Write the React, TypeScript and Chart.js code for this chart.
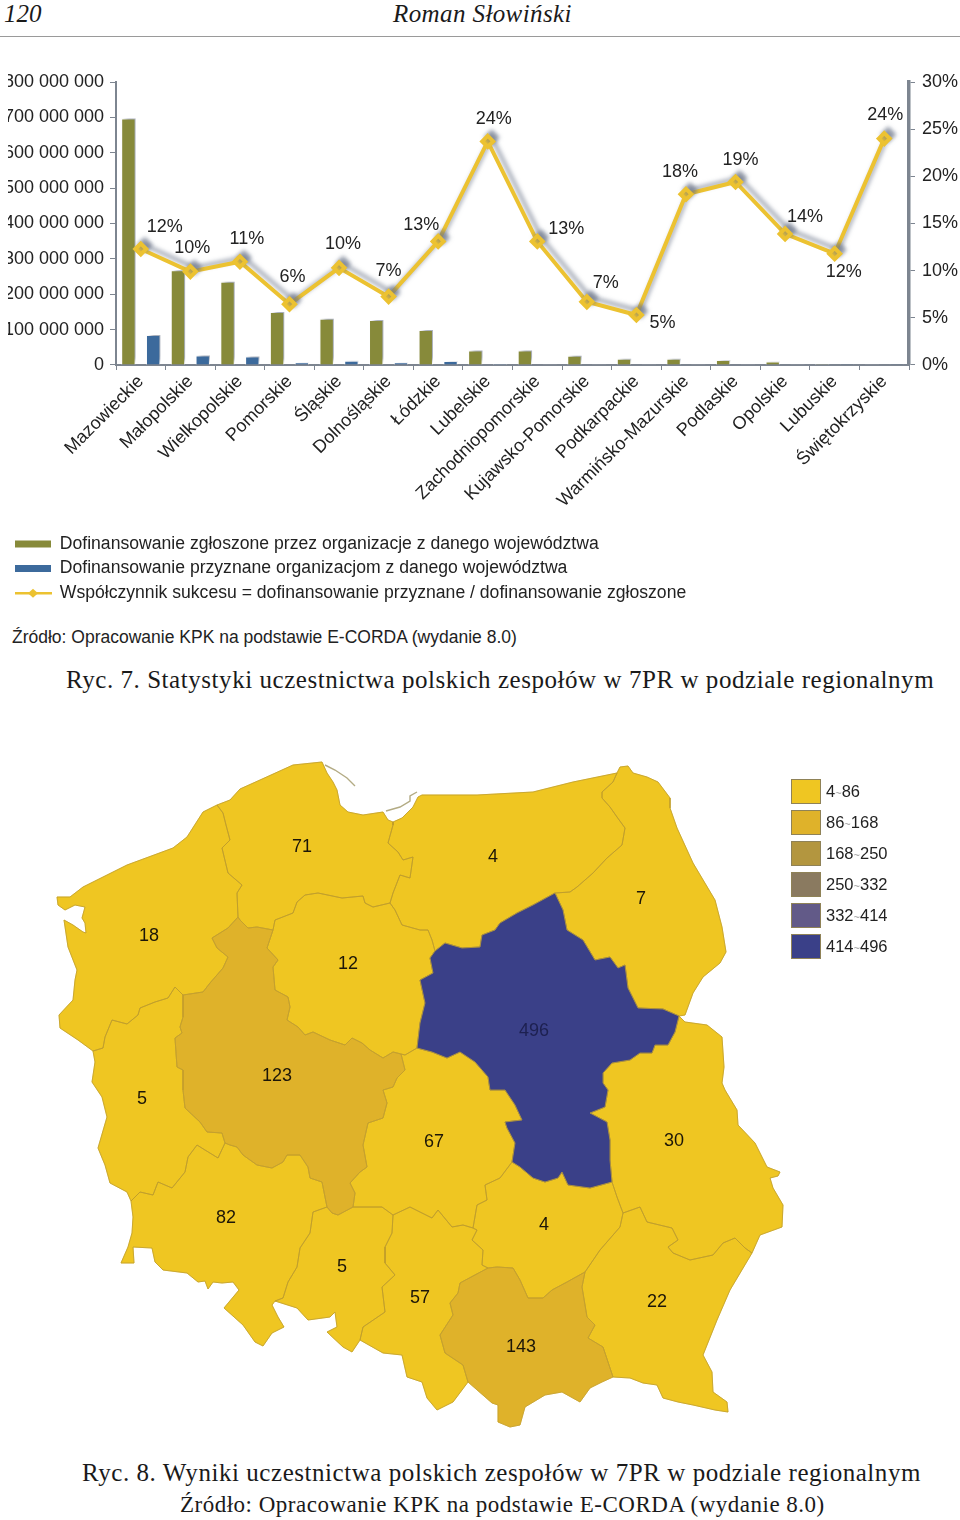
import React, { useEffect, useRef } from "react";
import { Chart, registerables } from "chart.js";

Chart.register(...registerables);

type P = [number, number];

// ---------- Figure 7 data ----------
const voivodeships = ["Mazowieckie", "Małopolskie", "Wielkopolskie", "Pomorskie", "Śląskie", "Dolnośląskie", "Łódzkie", "Lubelskie", "Zachodniopomorskie", "Kujawsko-Pomorskie", "Podkarpackie", "Warmińsko-Mazurskie", "Podlaskie", "Opolskie", "Lubuskie", "Świętokrzyskie"];
const requestedFunding = [697000000, 268000000, 235000000, 150000000, 131000000, 127000000, 99000000, 41000000, 41000000, 26000000, 18000000, 18000000, 14000000, 10000000, 2500000, 2000000];
const grantedFunding = [85000000, 27000000, 24000000, 8000000, 12000000, 8000000, 11000000, 3000000, 2000000, 2000000, 1000000, 1000000, 1000000, 1000000, 500000, 500000];
const successRate = [12.3, 9.9, 10.95, 6.45, 10.3, 7.25, 13.1, 23.7, 13.1, 6.7, 5.3, 18.1, 19.4, 13.9, 11.8, 24];
const rateLabels = ["12%", "10%", "11%", "6%", "10%", "7%", "13%", "24%", "13%", "7%", "5%", "18%", "19%", "14%", "12%", "24%"];
const rateLabelOffsets: P[] = [[24, -22], [2, -24], [7, -23], [3, -27], [4, -24], [0, -26], [-17, -16], [6, -22], [29, -12], [19, -19], [26, 8], [-6, -22], [5, -22], [20, -17], [9, 18], [1, -24]];
const seriesNames = ["Dofinansowanie zgłoszone przez organizacje z danego województwa", "Dofinansowanie przyznane organizacjom z danego województwa", "Współczynnik sukcesu = dofinansowanie przyznane / dofinansowanie zgłoszone"];

const mD: P[] = [[555, 893], [563, 910], [567, 930], [583, 940], [595, 960], [610, 957], [618, 968], [625, 965], [628, 988], [638, 1008], [663, 1009], [679, 1016]];
const mU: P[] = [[679, 1016], [675, 1032], [668, 1045], [655, 1045], [652, 1053], [640, 1053], [630, 1060], [612, 1063], [603, 1073], [603, 1083], [608, 1090], [605, 1107], [590, 1113], [607, 1122], [610, 1140], [610, 1160], [612, 1182]];
const mN: P[] = [[612, 1182], [590, 1188], [568, 1185], [562, 1172], [558, 1178], [545, 1182], [533, 1178], [520, 1167], [512, 1162]];
const mE: P[] = [[512, 1162], [515, 1143], [507, 1128], [505, 1122], [522, 1120], [515, 1105], [505, 1090], [490, 1090], [488, 1077], [475, 1062], [460, 1052], [447, 1058], [432, 1052], [417, 1048]];
const mK: P[] = [[417, 1048], [420, 1023], [425, 1003], [420, 980], [433, 973], [430, 958], [435, 951]];
const mW: P[] = [[435, 951], [445, 943], [462, 948], [480, 947], [482, 935], [495, 930], [500, 923], [517, 913], [533, 905], [555, 893]];
const wD: P[] = [[555, 893], [570, 892], [577, 887], [593, 873], [607, 858], [622, 845], [625, 828], [617, 817], [610, 807], [602, 798], [602, 792], [613, 782], [617, 773]];
const dOut: P[] = [[617, 773], [620, 767], [628, 766], [633, 773], [647, 777], [658, 782], [670, 798], [670, 808], [677, 828], [693, 863], [715, 900], [722, 927], [726, 952], [720, 963], [703, 977], [693, 993], [685, 1015], [679, 1016]];
const uOut: P[] = [[679, 1016], [685, 1022], [707, 1025], [722, 1037], [724, 1067], [722, 1083], [725, 1090], [737, 1110], [738, 1125], [755, 1143], [767, 1167], [780, 1172], [778, 1176], [770, 1178], [773, 1188], [783, 1205], [782, 1227], [760, 1235], [752, 1253]];
const uR: P[] = [[623, 1213], [640, 1207], [647, 1222], [672, 1228], [678, 1240], [668, 1247], [673, 1253], [690, 1260], [713, 1255], [723, 1243], [735, 1238], [745, 1248], [752, 1253]];
const uN: P[] = [[612, 1182], [617, 1197], [623, 1213]];
const nR: P[] = [[623, 1213], [620, 1227], [600, 1250], [585, 1272]];
const nA: P[] = [[585, 1272], [567, 1282], [552, 1290], [543, 1298], [528, 1298], [520, 1280], [513, 1268], [497, 1267], [488, 1268]];
const nT: P[] = [[488, 1268], [482, 1265], [483, 1250], [472, 1240], [477, 1230], [473, 1228]];
const nE: P[] = [[473, 1228], [477, 1205], [487, 1200], [485, 1185], [500, 1178], [512, 1162]];
const eK: P[] = [[417, 1048], [405, 1055], [401, 1054]];
const kG: P[] = [[401, 1054], [393, 1052], [383, 1058], [370, 1050], [362, 1043], [352, 1038], [345, 1045], [330, 1040], [313, 1032], [305, 1035], [298, 1027], [287, 1020], [290, 1007], [288, 997], [275, 990], [273, 967], [278, 960], [267, 948], [273, 930]];
const gP: P[] = [[273, 930], [257, 927], [248, 928], [240, 920], [238, 917]];
const gZ: P[] = [[238, 917], [228, 928], [212, 938], [217, 948], [228, 957], [223, 968], [210, 983], [203, 992], [183, 995]];
const gL: P[] = [[183, 995], [183, 1017], [180, 1027], [182, 1033], [175, 1038], [177, 1067], [183, 1070], [183, 1090], [185, 1108], [200, 1122], [207, 1132], [222, 1133], [225, 1143]];
const gS: P[] = [[225, 1143], [230, 1145], [237, 1147], [243, 1155], [257, 1165], [272, 1168], [283, 1162], [287, 1155], [300, 1155], [308, 1167], [310, 1178], [322, 1182], [325, 1197], [327, 1207]];
const gO: P[] = [[327, 1207], [332, 1213], [338, 1215], [353, 1207]];
const gE: P[] = [[353, 1207], [355, 1193], [350, 1183], [360, 1172], [367, 1167], [363, 1145], [368, 1123], [383, 1118], [387, 1103], [383, 1090], [393, 1087], [397, 1078], [405, 1070], [401, 1054]];
const eO: P[] = [[353, 1207], [382, 1207], [393, 1215]];
const eT: P[] = [[393, 1215], [410, 1207], [432, 1218], [438, 1210], [452, 1227], [463, 1225], [473, 1228]];
const oT: P[] = [[393, 1215], [392, 1233], [385, 1247], [385, 1263], [395, 1275], [382, 1287], [385, 1312], [363, 1327], [360, 1340]];
const oS: P[] = [[327, 1207], [313, 1212], [310, 1233], [300, 1248], [297, 1267], [288, 1282], [283, 1298], [275, 1301]];
const sL: P[] = [[225, 1143], [218, 1158], [205, 1150], [197, 1145], [188, 1157], [185, 1172], [172, 1188], [158, 1182], [153, 1195], [140, 1192], [131, 1201]];
const lOut: P[] = [[93, 1051], [95, 1062], [92, 1082], [102, 1097], [107, 1117], [98, 1148], [105, 1165], [110, 1183], [127, 1192], [131, 1201]];
const zL: P[] = [[183, 995], [175, 987], [168, 998], [155, 1002], [140, 1008], [138, 1015], [127, 1024], [112, 1020], [105, 1037], [103, 1048], [93, 1051]];
const sOut: P[] = [[131, 1201], [133, 1217], [132, 1233], [128, 1247], [121, 1263], [134, 1263], [133, 1247], [152, 1248], [155, 1262], [163, 1270], [187, 1273], [198, 1282], [205, 1281], [208, 1289], [213, 1282], [222, 1283], [233, 1282], [239, 1290], [224, 1308], [243, 1325], [255, 1342], [263, 1346], [272, 1333], [284, 1327], [278, 1317], [272, 1305], [275, 1301]];
const oOut: P[] = [[275, 1301], [297, 1308], [308, 1320], [330, 1317], [335, 1312], [337, 1327], [327, 1332], [343, 1347], [352, 1352], [360, 1340]];
const tOut: P[] = [[360, 1340], [383, 1353], [402, 1355], [407, 1377], [422, 1382], [427, 1398], [437, 1410], [453, 1402], [468, 1382]];
const tA: P[] = [[488, 1268], [460, 1283], [458, 1293], [450, 1303], [453, 1315], [440, 1335], [445, 1353], [463, 1365], [468, 1382]];
const aOut: P[] = [[468, 1382], [492, 1403], [498, 1405], [498, 1422], [510, 1427], [520, 1425], [525, 1407], [545, 1395], [562, 1392], [580, 1402], [590, 1388], [602, 1382], [613, 1377]];
const aR: P[] = [[585, 1272], [582, 1287], [587, 1317], [595, 1325], [588, 1338], [603, 1347], [613, 1377]];
const rOut: P[] = [[613, 1377], [630, 1378], [643, 1383], [657, 1385], [663, 1398], [678, 1402], [693, 1405], [715, 1410], [728, 1412], [727, 1402], [713, 1392], [712, 1372], [703, 1355], [717, 1320], [730, 1290], [752, 1253]];
const zOut: P[] = [[93, 1051], [78, 1040], [60, 1028], [59, 1015], [73, 1000], [75, 980], [77, 970], [68, 947], [64, 920], [73, 925], [83, 932], [86, 933], [85, 923], [82, 918], [85, 907], [75, 905], [65, 910], [58, 905], [57, 897], [70, 897], [83, 887], [95, 881], [127, 865], [173, 848], [187, 837], [203, 812], [217, 805]];
const pOut: P[] = [[217, 805], [230, 800], [240, 789], [260, 780], [293, 765], [322, 762], [327, 773], [333, 782], [337, 790], [340, 805], [348, 812], [363, 815], [383, 812], [388, 820], [393, 822]];
const wOut: P[] = [[393, 822], [402, 818], [413, 807], [418, 797], [422, 795], [477, 795], [533, 792], [573, 782], [617, 773]];
const zP: P[] = [[217, 805], [223, 813], [226, 825], [230, 840], [222, 848], [228, 873], [242, 885], [237, 893], [238, 917]];
const pK: P[] = [[273, 930], [275, 920], [293, 913], [297, 902], [305, 895], [318, 893], [342, 898], [363, 896], [365, 903], [373, 907], [390, 903]];
const pW: P[] = [[390, 903], [393, 893], [400, 875], [410, 878], [413, 857], [403, 860], [398, 852], [388, 843], [393, 825], [393, 822]];
const kW: P[] = [[390, 903], [395, 910], [402, 925], [420, 930], [428, 930], [432, 940], [435, 951]];
const helSpit: P[] = [[325, 765], [335, 770], [347, 778], [355, 786]];
const vistulaSpit: P[] = [[386, 811], [400, 807], [410, 801], [410, 796], [417, 792]];

const rev = (c: P[]): P[] => [...c].reverse();

const regionNames = ["Mazowieckie", "Podlaskie", "Warmińsko-Mazurskie", "Pomorskie", "Zachodniopomorskie", "Kujawsko-Pomorskie", "Wielkopolskie", "Lubuskie", "Dolnośląskie", "Opolskie", "Śląskie", "Łódzkie", "Świętokrzyskie", "Małopolskie", "Podkarpackie", "Lubelskie"];
const regionValues = [496, 7, 4, 71, 18, 12, 123, 5, 82, 5, 57, 67, 4, 143, 22, 30];
const regionLabelAnchors: P[] = [[534, 1031], [641, 899], [493, 857], [302, 847], [149, 936], [348, 964], [277, 1076], [142, 1099], [226, 1218], [342, 1267], [420, 1298], [434, 1142], [544, 1225], [521, 1347], [657, 1302], [674, 1141]];
const regionOutlines: P[][][] = [
  [mD, mU, mN, mE, mK, mW],
  [wD, dOut, rev(mD)],
  [mW, wD, rev(wOut), rev(pW), kW],
  [pOut, rev(pW), rev(pK), gP, rev(zP)],
  [zOut, zP, gZ, zL],
  [pK, kW, rev(mK), eK, kG],
  [kG, gP, gZ, gL, gS, gO, gE],
  [zL, lOut, rev(sL), rev(gL)],
  [sL, sOut, rev(oS), rev(gS)],
  [oS, oOut, rev(oT), rev(eO), rev(gO)],
  [oT, tOut, rev(tA), nT, rev(eT)],
  [eO, eT, nE, mE, eK, rev(gE)],
  [uN, nR, nA, nT, nE, rev(mN)],
  [aR, rev(aOut), rev(tA), rev(nA)],
  [uR, rev(rOut), rev(aR), rev(nR)],
  [uOut, rev(uR), rev(uN), rev(mU)],
];

const binLabels: [string, string][] = [["4", "86"], ["86", "168"], ["168", "250"], ["250", "332"], ["332", "414"], ["414", "496"]];
const binUpper = [86, 168, 250, 332, 414, 496];
const binColors = ["#efc622", "#dfb22a", "#b3963f", "#8a7a60", "#625a88", "#3a4088"];

const SANS = "'Liberation Sans', Arial, sans-serif";
const SERIF = "'Liberation Serif', serif";
const AXIS = "#7d8590";
const OLIVE = "#878a3a";
const BLUE = "#3c6a9c";
const GOLD = "#ecc231";
const TEXT = "#222222";
const BAR_H = 612;

function BarChart() {
  const ref = useRef<HTMLCanvasElement>(null);
  useEffect(() => {
    const shadow = {
      id: "softShadow",
      beforeDatasetDraw(chart: any) {
        const c = chart.ctx;
        c.save();
        c.shadowColor = "rgba(105,115,135,0.6)";
        c.shadowBlur = 4;
        c.shadowOffsetX = 4;
        c.shadowOffsetY = -4;
      },
      afterDatasetDraw(chart: any) {
        chart.ctx.restore();
      },
    };
    const extras = {
      id: "rateLabels",
      afterDatasetsDraw(chart: any) {
        const c = chart.ctx;
        const meta = chart.getDatasetMeta(2);
        c.save();
        c.font = `18px ${SANS}`;
        c.fillStyle = TEXT;
        c.textAlign = "center";
        c.textBaseline = "middle";
        rateLabels.forEach((t, i) => {
          const el = meta.data[i];
          c.fillText(t, el.x + rateLabelOffsets[i][0], el.y + rateLabelOffsets[i][1]);
        });
        c.restore();
      },
      afterDraw(chart: any) {
        const box = chart.legend.legendHitBoxes[2];
        if (!box) return;
        const c = chart.ctx;
        const y = box.top + box.height / 2;
        c.save();
        c.strokeStyle = GOLD;
        c.lineWidth = 2.5;
        c.beginPath();
        c.moveTo(box.left, y);
        c.lineTo(box.left + 37, y);
        c.stroke();
        c.fillStyle = GOLD;
        c.beginPath();
        c.moveTo(box.left + 18, y - 4.5);
        c.lineTo(box.left + 23, y);
        c.lineTo(box.left + 18, y + 4.5);
        c.lineTo(box.left + 13, y);
        c.closePath();
        c.fill();
        c.restore();
      },
    };
    const chart = new Chart(ref.current!, {
      type: "bar",
      data: {
        labels: voivodeships,
        datasets: [
          { type: "bar", label: seriesNames[0], data: requestedFunding, backgroundColor: OLIVE, borderColor: "#ffffff", borderWidth: 1, yAxisID: "y", order: 2 },
          { type: "bar", label: seriesNames[1], data: grantedFunding, backgroundColor: BLUE, borderColor: "#ffffff", borderWidth: 1, yAxisID: "y", order: 2 },
          { type: "line", label: seriesNames[2], data: successRate, borderColor: GOLD, backgroundColor: GOLD, borderWidth: 4, pointStyle: "rectRot", pointRadius: 5.5, tension: 0, yAxisID: "y1", order: 1 },
        ],
      } as any,
      options: {
        animation: false,
        responsive: false,
        maintainAspectRatio: false,
        layout: { padding: { top: 82, left: 8, right: 0, bottom: 0 } },
        datasets: { bar: { categoryPercentage: 1, barPercentage: 0.58 } },
        plugins: {
          tooltip: { enabled: false },
          legend: {
            position: "bottom",
            align: "start",
            labels: {
              color: TEXT,
              font: { family: SANS, size: 17.6 },
              boxWidth: 36,
              boxHeight: 7,
              padding: 7,
              generateLabels: () => seriesNames.map((text, i) => ({
                text,
                fillStyle: [OLIVE, BLUE, "rgba(0,0,0,0)"][i],
                strokeStyle: "rgba(0,0,0,0)",
                lineWidth: 0,
                datasetIndex: i,
                hidden: false,
                fontColor: TEXT,
              })),
            },
          },
        },
        scales: {
          x: {
            offset: true,
            border: { color: AXIS, width: 2 },
            grid: { drawOnChartArea: false, tickLength: 5, color: AXIS, offset: true },
            ticks: { color: TEXT, font: { family: SANS, size: 18 }, autoSkip: false, minRotation: 45, maxRotation: 45, padding: 1 },
            afterFit: (s: any) => {
              s.height = s.chart.height - s.chart.legend.height - 365;
            },
          },
          y: {
            position: "left",
            min: 0,
            max: 800000000,
            border: { color: AXIS, width: 2 },
            grid: { drawOnChartArea: false, tickLength: 6, color: AXIS },
            ticks: {
              stepSize: 100000000,
              padding: 6,
              color: TEXT,
              font: { family: SANS, size: 18 },
              callback: (v: any) => String(v).replace(/\B(?=(\d{3})+$)/g, " "),
            },
            afterFit: (s: any) => {
              s.width = 108;
            },
          },
          y1: {
            position: "right",
            min: 0,
            max: 30,
            border: { color: AXIS, width: 3.5 },
            grid: { drawOnChartArea: false, tickLength: 6, color: AXIS },
            ticks: { stepSize: 5, padding: 7, color: TEXT, font: { family: SANS, size: 18 }, callback: (v: any) => `${v}%` },
            afterFit: (s: any) => {
              s.width = 51;
            },
          },
        },
      } as any,
      plugins: [shadow, extras],
    });
    return () => chart.destroy();
  }, []);
  return <canvas ref={ref} width={960} height={BAR_H} style={{ position: "absolute", left: 0, top: 0, display: "block" }} />;
}

function MapChart() {
  const ref = useRef<HTMLCanvasElement>(null);
  useEffect(() => {
    const colorOf = (v: number) => binColors[binUpper.findIndex((u) => v <= u)];
    const points = regionOutlines.map((chains) => chains.flat().map(([x, y]) => ({ x, y })));
    const fillRegions = {
      id: "fillRegions",
      beforeDatasetsDraw(chart: any) {
        const c = chart.ctx;
        c.save();
        const order = regionValues.map((v, i) => [v, i]).sort((a, b) => a[0] - b[0]).map((a) => a[1]);
        order.forEach((i) => {
          const els = chart.getDatasetMeta(i).data;
          c.beginPath();
          els.forEach((el: any, k: number) => (k ? c.lineTo(el.x, el.y) : c.moveTo(el.x, el.y)));
          c.closePath();
          c.fillStyle = colorOf(regionValues[i]);
          c.strokeStyle = colorOf(regionValues[i]);
          c.lineWidth = 0.6;
          c.fill();
          c.stroke();
        });
        c.restore();
      },
      afterDatasetsDraw(chart: any) {
        const { x, y } = chart.scales;
        const c = chart.ctx;
        c.save();
        c.font = `18px ${SANS}`;
        c.textAlign = "center";
        c.textBaseline = "middle";
        regionValues.forEach((v, i) => {
          c.fillStyle = v > 400 ? "#1d2050" : "#1c1608";
          c.fillText(String(v), x.getPixelForValue(regionLabelAnchors[i][0]), y.getPixelForValue(regionLabelAnchors[i][1]));
        });
        c.restore();
      },
    };
    const regionSets = regionNames.map((label, i) => ({
      label,
      data: points[i],
      showLine: true,
      pointRadius: 0,
      fill: false,
      borderWidth: regionValues[i] > 400 ? 0 : 0.8,
      borderColor: regionValues[i] > 100 ? "#c49f2e" : "#bf9d2c",
      order: regionValues[i] > 100 ? 0 : 1,
      tension: 0,
    }));
    const spitSets = [helSpit, vistulaSpit].map((s, i) => ({
      label: ["Mierzeja Helska", "Mierzeja Wiślana"][i],
      data: s.map(([x, y]) => ({ x, y })),
      showLine: true,
      pointRadius: 0,
      borderWidth: 1.4,
      borderColor: "#b3ab84",
      fill: false,
    }));
    const chart = new Chart(ref.current!, {
      type: "scatter",
      data: { datasets: [...regionSets, ...spitSets] } as any,
      options: {
        animation: false,
        responsive: false,
        maintainAspectRatio: false,
        layout: { padding: 0 },
        plugins: { legend: { display: false }, tooltip: { enabled: false } },
        scales: {
          x: { type: "linear", display: false, min: 0, max: 960 },
          y: { type: "linear", display: false, min: 740, max: 1440, reverse: true },
        },
      } as any,
      plugins: [fillRegions],
    });
    return () => chart.destroy();
  }, []);
  return <canvas ref={ref} width={960} height={700} style={{ position: "absolute", left: 0, top: 740, display: "block" }} />;
}

const abs = (left: number, top: number, extra: React.CSSProperties = {}): React.CSSProperties => ({
  position: "absolute", left, top, whiteSpace: "nowrap", color: "#1a1a1a", lineHeight: 1, ...extra,
});

export default function App() {
  return (
    <div style={{ position: "absolute", left: 0, top: 0, width: 960, height: 1520, overflow: "hidden", background: "#fff" }}>
      <div style={abs(4, 1, { fontFamily: SERIF, fontStyle: "italic", fontSize: 25 })}>120</div>
      <div style={abs(393, 1, { fontFamily: SERIF, fontStyle: "italic", fontSize: 25, letterSpacing: 0.4 })}>Roman Słowiński</div>
      <div style={{ position: "absolute", left: 0, top: 36, width: 960, height: 1, background: "#9a9a9a" }} />
      <BarChart />
      <div style={abs(12, 629, { fontFamily: SANS, fontSize: 17.5, color: TEXT })}>Źródło: Opracowanie KPK na podstawie E-CORDA (wydanie 8.0)</div>
      <div style={abs(66, 667, { fontFamily: SERIF, fontSize: 25, letterSpacing: 0.55 })}>Ryc. 7. Statystyki uczestnictwa polskich zespołów w 7PR w podziale regionalnym</div>
      <MapChart />
      {binLabels.map(([a, b], i) => (
        <div key={a} style={{ position: "absolute", left: 791, top: 779 + i * 31, height: 24, display: "flex", alignItems: "center" }}>
          <div style={{ width: 28, height: 23, background: binColors[i], border: "1px solid #8f8257" }} />
          <div style={{ marginLeft: 5, fontFamily: SANS, fontSize: 16.5, color: TEXT, whiteSpace: "nowrap" }}>
            {a}<span style={{ color: "#999", fontSize: 11 }}>~</span>{b}
          </div>
        </div>
      ))}
      <div style={abs(82, 1460, { fontFamily: SERIF, fontSize: 25, letterSpacing: 0.55 })}>Ryc. 8. Wyniki uczestnictwa polskich zespołów w 7PR w podziale regionalnym</div>
      <div style={abs(180, 1493, { fontFamily: SERIF, fontSize: 23, letterSpacing: 0.5 })}>Źródło: Opracowanie KPK na podstawie E-CORDA (wydanie 8.0)</div>
    </div>
  );
}
